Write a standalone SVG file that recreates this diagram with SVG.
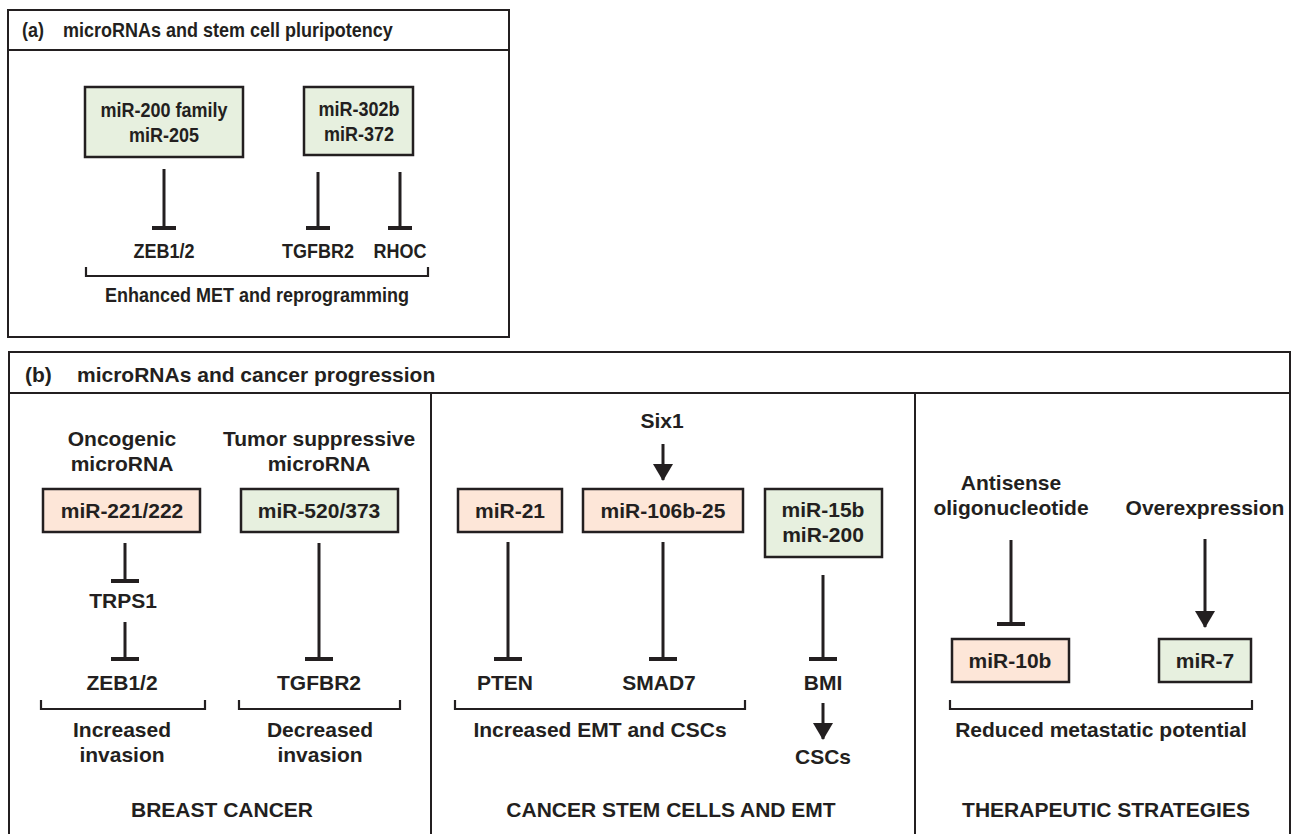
<svg xmlns="http://www.w3.org/2000/svg" width="1295" height="834" viewBox="0 0 1295 834">
<style>
text{font-family:"Liberation Sans",Arial,sans-serif;font-weight:bold;fill:#231f20;}
.a{font-size:21px;}
.b{font-size:21px;}
.m{text-anchor:middle;}
.frame{fill:none;stroke:#231f20;stroke-width:2;}
.g{fill:#e7f0df;stroke:#231f20;stroke-width:2.5;}
.p{fill:#fde6d8;stroke:#231f20;stroke-width:2.5;}
.c{fill:none;stroke:#231f20;stroke-width:3;}
.br{fill:none;stroke:#231f20;stroke-width:2.2;}
</style>
<defs>
<marker id="teeA" markerUnits="userSpaceOnUse" viewBox="0 0 4 24" markerWidth="4" markerHeight="24" refX="2" refY="12" orient="auto"><rect width="4" height="24" fill="#231f20"/></marker>
<marker id="teeB" markerUnits="userSpaceOnUse" viewBox="0 0 4 28" markerWidth="4" markerHeight="28" refX="2" refY="14" orient="auto"><rect width="4" height="28" fill="#231f20"/></marker>
<marker id="arrow" markerUnits="userSpaceOnUse" viewBox="0 0 17 20" markerWidth="17" markerHeight="20" refX="16" refY="10" orient="auto"><path d="M0,0 L17,10 L0,20 z" fill="#231f20"/></marker>
</defs>
<rect width="1295" height="834" fill="#fff"/>

<g id="panel-a">
<rect class="frame" x="8" y="10" width="501" height="327"/>
<line class="frame" x1="8" y1="50" x2="509" y2="50"/>
<g transform="scale(0.857 1)">
<text class="a" x="25.7" y="37">(a)</text>
<text class="a" x="73.5" y="37">microRNAs and stem cell pluripotency</text>
</g>
</g>

<g id="a-mir200">
<rect class="g" x="85" y="87" width="158" height="70"/>
<g transform="scale(0.857 1)">
<text class="a m" x="191.4" y="117">miR-200 family</text>
<text class="a m" x="191.4" y="142">miR-205</text>
</g>
</g>
<g id="a-mir302">
<rect class="g" x="304" y="87" width="109" height="68"/>
<g transform="scale(0.857 1)">
<text class="a m" x="418.9" y="116">miR-302b</text>
<text class="a m" x="418.9" y="141">miR-372</text>
</g>
</g>
<g id="a-zeb"><text class="a m" transform="scale(0.857 1)" x="191.4" y="258">ZEB1/2</text></g>
<g id="a-tgfbr2"><text class="a m" transform="scale(0.857 1)" x="371.1" y="258">TGFBR2</text></g>
<g id="a-rhoc"><text class="a m" transform="scale(0.857 1)" x="466.8" y="258">RHOC</text></g>
<g id="a-outcome">
<path class="br" d="M86,267 V276 H428 V267"/>
<text class="a m" transform="scale(0.857 1)" x="299.9" y="302">Enhanced MET and reprogramming</text>
</g>

<g id="panel-b">
<rect class="frame" x="9" y="352" width="1281" height="500"/>
<line class="frame" x1="9" y1="393" x2="1290" y2="393"/>
<line class="frame" x1="431" y1="393" x2="431" y2="840"/>
<line class="frame" x1="915" y1="393" x2="915" y2="840"/>
<text class="b" x="25" y="382">(b)</text>
<text class="b" x="77" y="382">microRNAs and cancer progression</text>
</g>

<g id="b-oncogenic"><text class="b m" x="122" y="446">Oncogenic</text><text class="b m" x="122" y="471">microRNA</text></g>
<g id="b-suppressive"><text class="b m" x="319" y="446">Tumor suppressive</text><text class="b m" x="319" y="471">microRNA</text></g>
<g id="b-mir221">
<rect class="p" x="43" y="489" width="157" height="43"/>
<text class="b m" x="122" y="518">miR-221/222</text>
</g>
<g id="b-mir520">
<rect class="g" x="241" y="489" width="157" height="43"/>
<text class="b m" x="319" y="518">miR-520/373</text>
</g>
<g id="b-trps1"><text class="b m" x="123" y="608">TRPS1</text></g>
<g id="b-zeb"><text class="b m" x="122" y="690">ZEB1/2</text></g>
<g id="b-tgfbr2"><text class="b m" x="319" y="690">TGFBR2</text></g>
<g id="b-inc-inv">
<path class="br" d="M41,700 V709 H205 V700"/>
<text class="b m" x="122" y="737">Increased</text><text class="b m" x="122" y="762">invasion</text>
</g>
<g id="b-dec-inv">
<path class="br" d="M239,700 V709 H400 V700"/>
<text class="b m" x="320" y="737">Decreased</text><text class="b m" x="320" y="762">invasion</text>
</g>
<g id="b-breast"><text class="b m" x="222" y="817">BREAST CANCER</text></g>

<g id="b-six1"><text class="b m" x="662" y="428">Six1</text></g>
<g id="b-mir21">
<rect class="p" x="458" y="489" width="104" height="43"/>
<text class="b m" x="510" y="518">miR-21</text>
</g>
<g id="b-mir106">
<rect class="p" x="583" y="489" width="160" height="43"/>
<text class="b m" x="663" y="518">miR-106b-25</text>
</g>
<g id="b-mir15b">
<rect class="g" x="765" y="489" width="117" height="68"/>
<text class="b m" x="823" y="517">miR-15b</text>
<text class="b m" x="823" y="542">miR-200</text>
</g>
<g id="b-pten"><text class="b m" x="505" y="690">PTEN</text></g>
<g id="b-smad7"><text class="b m" x="659" y="690">SMAD7</text></g>
<g id="b-bmi"><text class="b m" x="823" y="690">BMI</text></g>
<g id="b-csc-out">
<path class="br" d="M455,700 V709 H745 V700"/>
<text class="b m" x="600" y="737">Increased EMT and CSCs</text>
</g>
<g id="b-cscs"><text class="b m" x="823" y="764">CSCs</text></g>
<g id="b-cscemt"><text class="b m" x="671" y="817">CANCER STEM CELLS AND EMT</text></g>

<g id="b-antisense"><text class="b m" x="1011" y="490">Antisense</text><text class="b m" x="1011" y="515">oligonucleotide</text></g>
<g id="b-overexp"><text class="b m" x="1205" y="515">Overexpression</text></g>
<g id="b-mir10b">
<rect class="p" x="952" y="639" width="117" height="43"/>
<text class="b m" x="1010" y="668">miR-10b</text>
</g>
<g id="b-mir7">
<rect class="g" x="1159" y="639" width="92" height="43"/>
<text class="b m" x="1205" y="668">miR-7</text>
</g>
<g id="b-ther-out">
<path class="br" d="M950,700 V709 H1252 V700"/>
<text class="b m" x="1101" y="737">Reduced metastatic potential</text>
</g>
<g id="b-ther"><text class="b m" x="1106" y="817">THERAPEUTIC STRATEGIES</text></g>

<g id="connectors">
<line class="c" x1="164" y1="169" x2="164" y2="228" marker-end="url(#teeA)"/>
<line class="c" x1="318" y1="172" x2="318" y2="228" marker-end="url(#teeA)"/>
<line class="c" x1="400" y1="172" x2="400" y2="228" marker-end="url(#teeA)"/>
<line class="c" x1="125" y1="543" x2="125" y2="581" marker-end="url(#teeB)"/>
<line class="c" x1="125" y1="622" x2="125" y2="659" marker-end="url(#teeB)"/>
<line class="c" x1="319" y1="543" x2="319" y2="659" marker-end="url(#teeB)"/>
<line class="c" x1="663" y1="444" x2="663" y2="480" marker-end="url(#arrow)"/>
<line class="c" x1="508" y1="542" x2="508" y2="659" marker-end="url(#teeB)"/>
<line class="c" x1="663" y1="542" x2="663" y2="659" marker-end="url(#teeB)"/>
<line class="c" x1="823" y1="575" x2="823" y2="659" marker-end="url(#teeB)"/>
<line class="c" x1="823" y1="703" x2="823" y2="739" marker-end="url(#arrow)"/>
<line class="c" x1="1011" y1="540" x2="1011" y2="624" marker-end="url(#teeB)"/>
<line class="c" x1="1205" y1="539" x2="1205" y2="627" marker-end="url(#arrow)"/>
</g>
</svg>
